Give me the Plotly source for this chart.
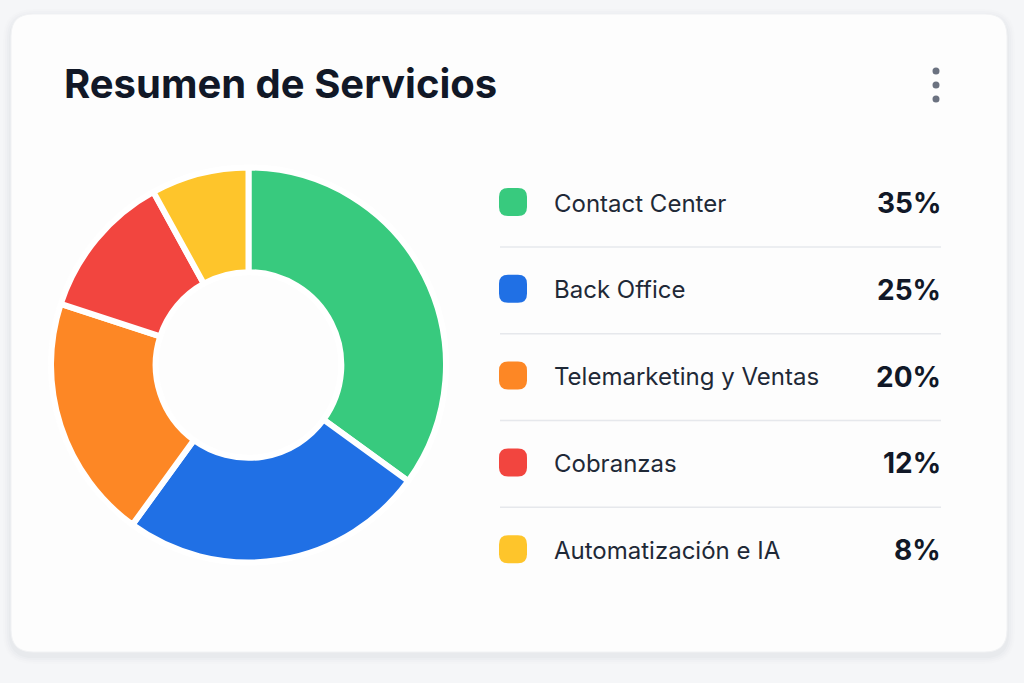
import plotly.graph_objects as go

# datos del gráfico
servicios = ["Contact Center", "Back Office", "Telemarketing y Ventas", "Cobranzas", "Automatización e IA"]
porcentajes = [35, 25, 20, 12, 8]
colores = ["#38ca7e", "#2070e5", "#fd8725", "#f2453f", "#fec52b"]
titulo = "Resumen de Servicios"

W, H = 1024, 683
FONT = "Inter"


def rounded_rect(x0, y0, x1, y1, r):
    return (
        f"M {x0 + r} {y0} L {x1 - r} {y0} Q {x1} {y0} {x1} {y0 + r} "
        f"L {x1} {y1 - r} Q {x1} {y1} {x1 - r} {y1} "
        f"L {x0 + r} {y1} Q {x0} {y1} {x0} {y1 - r} "
        f"L {x0} {y0 + r} Q {x0} {y0} {x0 + r} {y0} Z"
    )


shapes = []
# sombra suave de la tarjeta
for i, op in enumerate([0.008, 0.012, 0.016, 0.02]):
    d = 8 - i * 2
    shapes.append(dict(type="path", xref="x", yref="y", layer="below",
                       path=rounded_rect(11 - d, 14 - d + 3, 1007 + d, 652 + d + 4, 22 + d),
                       fillcolor=f"rgba(30,40,60,{op})", line=dict(width=0)))
shapes.append(dict(type="path", xref="x", yref="y", layer="below",
                   path=rounded_rect(11, 14, 1007, 652, 22),
                   fillcolor="#fdfdfd", line=dict(color="#f1f2f4", width=1)))

# menú de tres puntos
for cy in [71, 85, 99]:
    shapes.append(dict(type="circle", xref="x", yref="y", x0=932.5, x1=939.5, y0=cy - 3.5, y1=cy + 3.5,
                       fillcolor="#6b7280", line=dict(width=0)))

annotations = [dict(x=62, y=83, xref="x", yref="y", text=titulo, showarrow=False,
                    xanchor="left", yanchor="middle",
                    font=dict(family=FONT, size=40, color="#111827", weight="bold"))]

# leyenda personalizada
y0, paso = 202, 86.8
for i, (nombre, valor, color) in enumerate(zip(servicios, porcentajes, colores)):
    cy = y0 + i * paso
    shapes.append(dict(type="path", xref="x", yref="y",
                       path=rounded_rect(499, cy - 14, 527, cy + 14, 9),
                       fillcolor=color, line=dict(width=0)))
    annotations.append(dict(x=552, y=cy + 1, xref="x", yref="y", text=nombre, showarrow=False,
                            xanchor="left", yanchor="middle",
                            font=dict(family=FONT, size=24, color="#1f2937")))
    annotations.append(dict(x=943, y=cy + 1, xref="x", yref="y", text=f"{valor}%", showarrow=False,
                            xanchor="right", yanchor="middle",
                            font=dict(family=FONT, size=28, color="#111827", weight="bold")))
    if i < len(servicios) - 1:
        sy = cy + paso / 2 + 1.5
        shapes.append(dict(type="line", xref="x", yref="y", x0=500, x1=941, y0=sy, y1=sy,
                           line=dict(color="#e6e8ec", width=1.5)))

cx, cy, r = 248.5, 365, 197.5
fig = go.Figure()
fig.add_trace(go.Pie(
    labels=servicios, values=porcentajes, hole=0.47, sort=False,
    direction="clockwise", rotation=0,
    marker=dict(colors=colores, line=dict(color="#ffffff", width=6)),
    textinfo="none", hoverinfo="label+percent", showlegend=False,
    domain=dict(x=[(cx - r) / W, (cx + r) / W], y=[1 - (cy + r) / H, 1 - (cy - r) / H]),
))
# trazo invisible para activar los ejes en píxeles
fig.add_trace(go.Scatter(x=[0, W], y=[0, H], mode="markers", marker=dict(opacity=0),
                         hoverinfo="skip", showlegend=False))

fig.update_layout(
    width=W, height=H, margin=dict(l=0, r=0, t=0, b=0),
    paper_bgcolor="#f5f6f8", plot_bgcolor="rgba(0,0,0,0)",
    xaxis=dict(range=[0, W], visible=False, fixedrange=True),
    yaxis=dict(range=[H, 0], visible=False, fixedrange=True),
    shapes=shapes, annotations=annotations,
)

fig.write_html("out.html", config={"displayModeBar": False},
               post_script="document.body.style.margin='0';document.body.style.background='#f5f6f8';")
